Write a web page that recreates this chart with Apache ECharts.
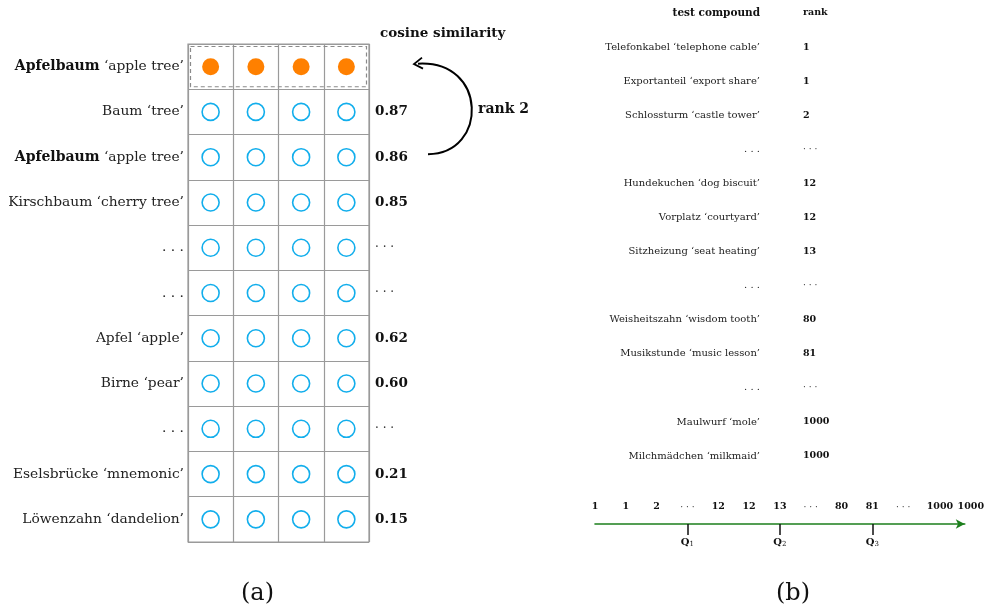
<!DOCTYPE html>
<html>
<head>
<meta charset="utf-8">
<script src="https://cdn.jsdelivr.net/npm/echarts@6/dist/echarts.min.js"></script>
<style>html,body{margin:0;padding:0;background:#fff}#c{width:987px;height:608px}</style>
</head>
<body>
<div id="c"></div>
<script>
// ---- Panel (a) data ----
const dims = ['d1', 'd2', 'd3', 'd4'];
const words = ['Apfelbaum', 'Baum', 'Apfelbaum', 'Kirschbaum', '…', '…', 'Apfel', 'Birne', '…', 'Eselsbrücke', 'Löwenzahn'];
const glosses = ['apple tree', 'tree', 'apple tree', 'cherry tree', '', '', 'apple', 'pear', '', 'mnemonic', 'dandelion'];
const cosine = ['', '0.87', '0.86', '0.85', '…', '…', '0.62', '0.60', '…', '0.21', '0.15'];
const queryWord = 'Apfelbaum';
const queryRow = 0;
const rankLabel = 'rank 2';
const similarityTitle = 'cosine similarity';

// ---- Panel (b) data ----
const compounds = ['Telefonkabel', 'Exportanteil', 'Schlossturm', '…', 'Hundekuchen', 'Vorplatz', 'Sitzheizung', '…', 'Weisheitszahn', 'Musikstunde', '…', 'Maulwurf', 'Milchmädchen'];
const compoundGlosses = ['telephone cable', 'export share', 'castle tower', '', 'dog biscuit', 'courtyard', 'seat heating', '', 'wisdom tooth', 'music lesson', '', 'mole', 'milkmaid'];
const ranks = ['1', '1', '2', '…', '12', '12', '13', '…', '80', '81', '…', '1000', '1000'];
const headerCompound = 'test compound';
const headerRank = 'rank';
const quartileIdx = [3, 6, 9];
const quartileNames = ['1', '2', '3'];

const SERIF = 'DejaVu Serif';
const ORANGE = '#FF8000';
const CYAN = '#12AEEC';
const GRID_GRAY = '#9a9a9a';
const GREEN = '#1d7f1d';

const leftLabels = words.map((w, i) => {
  if (w === '…') return '{n|. . .}';
  const g = ' ‘' + glosses[i] + '’';
  return w === queryWord ? '{b|' + w + '}{n|' + g + '}' : '{n|' + w + g + '}';
});
const rightLabels = cosine.map(v => v === '…' ? '{n|· · ·}' : (v ? '{v|' + v + '}' : ''));

const queryData = dims.map((d, c) => [c, queryRow]);
const neighborData = [];
words.forEach((w, r) => { if (r !== queryRow) dims.forEach((d, c) => neighborData.push([c, r])); });

const compLabels = ['{hh|' + headerCompound + '}'].concat(compounds.map((w, i) => w === '…' ? '{n|. . .}' : '{n|' + w + ' ‘' + compoundGlosses[i] + '’}'));
const rankLabels = ['{h|' + headerRank + '}'].concat(ranks.map(r => r === '…' ? '{n|· · ·}' : '{h|' + r + '}'));

const G0 = { left: 188, top: 44, width: 181, height: 498 };
const chart = echarts.init(document.getElementById('c'), null, { renderer: 'canvas' });

chart.setOption({
  backgroundColor: '#fff',
  animation: false,
  title: [
    { text: similarityTitle, left: 375, top: 21, textStyle: { fontFamily: SERIF, fontWeight: 'bold', fontSize: 13.5, color: '#111' } },
    { text: '(a)', left: 236, top: 577, textStyle: { fontFamily: SERIF, fontWeight: 'normal', fontSize: 24, color: '#111' } },
    { text: '(b)', left: 771, top: 577, textStyle: { fontFamily: SERIF, fontWeight: 'normal', fontSize: 24, color: '#111' } }
  ],
  grid: [
    Object.assign({ show: true, borderColor: GRID_GRAY, borderWidth: 1.2, backgroundColor: 'transparent' }, G0),
    { left: 764, top: 13, width: 35, height: 443, show: false },
    { left: 595, top: 500, width: 372, height: 24, show: false }
  ],
  xAxis: [
    { gridIndex: 0, type: 'category', data: dims, position: 'top', axisLine: { show: false }, axisTick: { show: false }, axisLabel: { show: false },
      splitLine: { show: true, interval: 0, lineStyle: { color: GRID_GRAY, width: 1.2 } } },
    { gridIndex: 1, type: 'value', show: false },
    { gridIndex: 2, type: 'category', data: ranks, boundaryGap: false, position: 'bottom',
      axisLine: { show: true, lineStyle: { color: GREEN, width: 1.6 }, symbol: ['none', 'arrow'], symbolSize: [7, 9] },
      axisTick: { show: false },
      axisLabel: { inside: true, interval: 0, margin: 12, fontFamily: SERIF, fontSize: 9.5, fontWeight: 'bold', color: '#111',
        formatter: (v, i) => v === '…' ? '{d|· · ·}' : (i >= ranks.length - 2 ? '{r|' + v + '}' : v),
        rich: { d: { fontFamily: SERIF, fontSize: 9, fontWeight: 'normal', color: '#333' },
                r: { fontFamily: SERIF, fontSize: 9.5, fontWeight: 'bold', color: '#111', padding: [0, 0, 0, 12] } } },
      splitLine: { show: false } },
    { gridIndex: 2, type: 'category', data: ranks, boundaryGap: false, position: 'bottom',
      axisLine: { show: false },
      axisTick: { show: true, length: 11, interval: (i) => quartileIdx.indexOf(i) >= 0, lineStyle: { color: '#111', width: 1.5 } },
      axisLabel: { interval: (i) => quartileIdx.indexOf(i) >= 0, margin: 13,
        formatter: (v, i) => { const k = quartileIdx.indexOf(i); return k >= 0 ? '{q|Q}{s|' + quartileNames[k] + '}' : ''; },
        rich: { q: { fontFamily: SERIF, fontSize: 10, fontWeight: 'bold', color: '#111' },
                s: { fontFamily: SERIF, fontSize: 7, fontWeight: 'normal', color: '#111', verticalAlign: 'bottom', padding: [4, 0, 0, 0] } } },
      splitLine: { show: false } }
  ],
  yAxis: [
    { gridIndex: 0, type: 'category', data: leftLabels, inverse: true, position: 'left',
      axisLine: { show: false }, axisTick: { show: false },
      axisLabel: { margin: 4, interval: 0, formatter: v => v,
        rich: { b: { fontFamily: SERIF, fontWeight: 'bold', fontSize: 14, color: '#111' },
                n: { fontFamily: SERIF, fontWeight: 'normal', fontSize: 13.8, color: '#222' } } },
      splitLine: { show: true, interval: 0, lineStyle: { color: GRID_GRAY, width: 1.2 } } },
    { gridIndex: 0, type: 'category', data: rightLabels, inverse: true, position: 'right',
      axisLine: { show: false }, axisTick: { show: false }, splitLine: { show: false },
      axisLabel: { margin: 6, interval: 0, formatter: v => v,
        rich: { v: { fontFamily: SERIF, fontWeight: 'bold', fontSize: 13.5, color: '#111' },
                n: { fontFamily: SERIF, fontWeight: 'normal', fontSize: 12, color: '#333' } } } },
    { gridIndex: 1, type: 'category', data: compLabels, inverse: true, boundaryGap: false, position: 'left',
      axisLine: { show: false }, axisTick: { show: false }, splitLine: { show: false },
      axisLabel: { margin: 4, interval: 0, formatter: v => v,
        rich: { hh: { fontFamily: SERIF, fontWeight: 'bold', fontSize: 10.5, color: '#111' },
                n: { fontFamily: SERIF, fontWeight: 'normal', fontSize: 10, color: '#222' } } } },
    { gridIndex: 1, type: 'category', data: rankLabels, inverse: true, boundaryGap: false, position: 'right',
      axisLine: { show: false }, axisTick: { show: false }, splitLine: { show: false },
      axisLabel: { margin: 4, interval: 0, formatter: v => v,
        rich: { h: { fontFamily: SERIF, fontWeight: 'bold', fontSize: 9.5, color: '#111' },
                n: { fontFamily: SERIF, fontWeight: 'normal', fontSize: 9, color: '#333' } } } },
    { gridIndex: 2, type: 'value', show: false }
  ],
  series: [
    { type: 'scatter', name: 'query', xAxisIndex: 0, yAxisIndex: 0, data: queryData, symbol: 'circle', symbolSize: 17,
      itemStyle: { color: ORANGE, opacity: 1 }, silent: true },
    { type: 'scatter', name: 'neighbours', xAxisIndex: 0, yAxisIndex: 0, data: neighborData, symbol: 'circle', symbolSize: 17,
      itemStyle: { color: '#fff', borderColor: CYAN, borderWidth: 1.6, opacity: 1 }, silent: true },
    { type: 'scatter', xAxisIndex: 1, yAxisIndex: 2, data: [] },
    { type: 'scatter', xAxisIndex: 2, yAxisIndex: 4, data: [] }
  ]
});

// annotations anchored to the grid's own scales
const rowH = G0.height / words.length;
const pQ = chart.convertToPixel({ xAxisIndex: 0, yAxisIndex: 0 }, [0, queryRow]);
const pDup = chart.convertToPixel({ xAxisIndex: 0, yAxisIndex: 0 }, [0, words.indexOf(queryWord, queryRow + 1)]);
const gx = G0.left + G0.width;
const sx = gx + 59, sy = pDup[1] - 3;
const ex = gx + 45, ey = pQ[1] - 3;
chart.setOption({
  graphic: [
    { type: 'rect', shape: { x: G0.left + 2.5, y: pQ[1] - rowH / 2 + 2.5, width: G0.width - 5, height: rowH - 5 },
      style: { fill: 'none', stroke: '#8a8a8a', lineWidth: 1.2, lineDash: [4, 3] }, silent: true },
    { type: 'bezierCurve', shape: { x1: sx, y1: sy, cpx1: sx + 60, cpy1: sy, cpx2: ex + 74, cpy2: ey - 4, x2: ex + 4, y2: ey },
      style: { fill: 'none', stroke: '#000', lineWidth: 2 }, silent: true },
    { type: 'polyline', shape: { points: [[ex + 8, ey - 6], [ex, ey + 0.5], [ex + 9, ey + 5]] },
      style: { fill: 'none', stroke: '#000', lineWidth: 1.8 }, silent: true },
    { type: 'text', left: gx + 109, top: (pQ[1] + pDup[1]) / 2 - 10,
      style: { text: rankLabel, fontFamily: SERIF, fontWeight: 'bold', fontSize: 14, fill: '#111' }, silent: true }
  ]
});
</script>
</body>
</html>
